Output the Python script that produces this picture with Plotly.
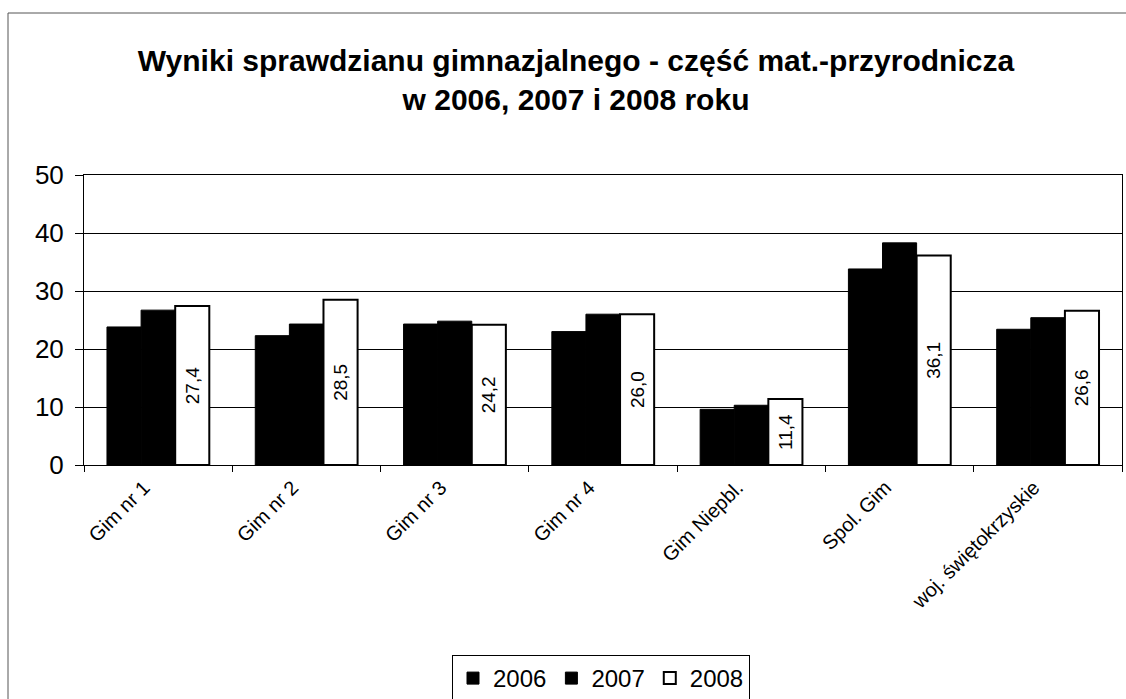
import plotly.graph_objects as go

categories = ["Gim nr 1", "Gim nr 2", "Gim nr 3", "Gim nr 4", "Gim Niepbl.", "Spol. Gim", "woj. świętokrzyskie"]
years = ["2006", "2007", "2008"]
v2006 = [23.8, 22.3, 24.3, 23.0, 9.6, 33.8, 23.4]
v2007 = [26.7, 24.3, 24.8, 26.0, 10.3, 38.3, 25.4]
v2008 = [27.4, 28.5, 24.2, 26.0, 11.4, 36.1, 26.6]
title_text = "Wyniki sprawdzianu gimnazjalnego - część mat.-przyrodnicza<br>w 2006, 2007 i 2008 roku"

FONT = "Liberation Sans, Arial, sans-serif"

fig = go.Figure()
fig.add_trace(go.Bar(name=years[0], x=categories, y=v2006,
                     marker=dict(color="black", line=dict(color="black", width=1))))
fig.add_trace(go.Bar(name=years[1], x=categories, y=v2007,
                     marker=dict(color="black", line=dict(color="black", width=1))))
fig.add_trace(go.Bar(name=years[2], x=categories, y=v2008,
                     marker=dict(color="white", line=dict(color="black", width=2)),
                     text=[f"{v:.1f}".replace(".", ",") for v in v2008],
                     textposition="inside", insidetextanchor="middle", textangle=-90,
                     textfont=dict(family=FONT, size=19, color="black")))

L, R, T, B = 84, 4, 175, 234
W, H = 1126, 699
pw, ph = W - L - R, H - T - B

fig.update_layout(
    width=W, height=H,
    barmode="group", bargap=0.31, bargroupgap=0,
    paper_bgcolor="white", plot_bgcolor="white",
    margin=dict(l=L, r=R, t=T, b=B, autoexpand=False),
    font=dict(family=FONT, color="black"),
    title=dict(text="<b>" + title_text + "</b>", x=576 / W, xanchor="center", xref="container",
               y=1 - 71 / H, yanchor="top", yref="container",
               font=dict(family=FONT, size=30, color="black")),
    showlegend=True,
    legend=dict(orientation="h", x=(601 - L) / pw, xanchor="center",
                y=-(655 - (T + ph)) / ph, yanchor="top",
                bordercolor="black", borderwidth=1, bgcolor="white",
                font=dict(family=FONT, size=24, color="black"),
                traceorder="normal", itemwidth=30),
    xaxis=dict(type="category", tickangle=-45, tickson="boundaries", ticks="outside",
               ticklen=6, tickcolor="black", showline=True, linecolor="black", linewidth=1,
               mirror=True, tickfont=dict(family=FONT, size=20, color="black"),
               ticklabelshift=-14, ticklabelstandoff=2,
               showgrid=False, automargin=False),
    yaxis=dict(range=[0, 50], dtick=10, ticks="outside", ticklen=8, tickcolor="black",
               showline=True, linecolor="black", linewidth=1, mirror=True,
               showgrid=True, gridcolor="black", gridwidth=1,
               tickfont=dict(family=FONT, size=26, color="black"), zeroline=False,
               ticklabelstandoff=6, automargin=False),
)

# outer chart frame (left and top edges visible in the reference)
x0 = (8 - L) / pw
y1 = 1 + (T - 13) / ph
fig.add_shape(type="line", xref="paper", yref="paper", x0=x0, x1=x0, y0=-(H - T - ph) / ph, y1=y1,
              line=dict(color="#555", width=1))
fig.add_shape(type="line", xref="paper", yref="paper", x0=x0, x1=(W - L) / pw, y0=y1, y1=y1,
              line=dict(color="#555", width=1))

fig.write_html("out.html", config={"displayModeBar": False},
               post_script="document.body.style.margin='0';document.body.style.overflow='hidden';")
